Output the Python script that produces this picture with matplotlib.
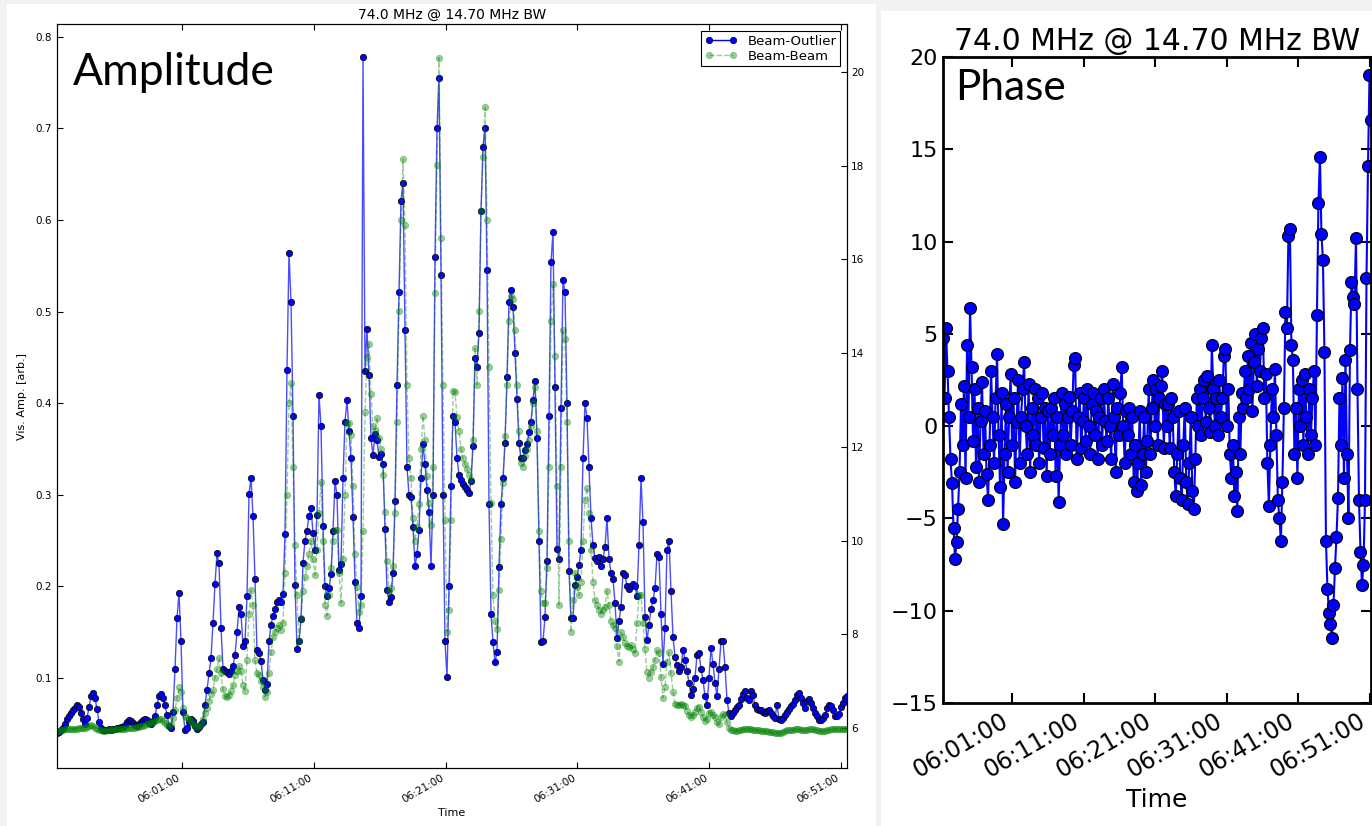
import numpy as np
import pandas as pd
import matplotlib
matplotlib.use('Agg')
import matplotlib.pyplot as plt
import matplotlib.dates as mdates
from matplotlib.lines import Line2D
from matplotlib.patches import Rectangle

title = '74.0 MHz @ 14.70 MHz BW'
tick_minutes = [1, 11, 21, 31, 41, 51]

# amplitude panel: samples evenly spaced between start and end
amp_start = '2013-01-01 05:51:31'
amp_end = '2013-01-01 06:51:27'

# Beam-Outlier, Vis. Amp. [arb.] (left axis)
beam_outlier = [
    0.040, 0.041, 0.043, 0.045, 0.050, 0.055, 0.059, 0.062, 0.065, 0.067,
    0.070, 0.068, 0.062, 0.055, 0.050, 0.056, 0.068, 0.080, 0.084, 0.078,
    0.066, 0.052, 0.045, 0.043, 0.043, 0.043, 0.044, 0.043, 0.044, 0.044,
    0.045, 0.045, 0.046, 0.047, 0.049, 0.052, 0.054, 0.053, 0.051, 0.049,
    0.048, 0.050, 0.052, 0.054, 0.055, 0.054, 0.051, 0.050, 0.053, 0.058,
    0.070, 0.080, 0.083, 0.078, 0.070, 0.060, 0.048, 0.045, 0.063, 0.110,
    0.165, 0.193, 0.140, 0.063, 0.043, 0.045, 0.052, 0.055, 0.053, 0.048,
    0.044, 0.046, 0.050, 0.052, 0.071, 0.087, 0.105, 0.122, 0.160, 0.203,
    0.236, 0.225, 0.155, 0.110, 0.108, 0.107, 0.104, 0.108, 0.113, 0.125,
    0.150, 0.177, 0.170, 0.135, 0.140, 0.189, 0.301, 0.318, 0.277, 0.208,
    0.130, 0.127, 0.118, 0.098, 0.087, 0.093, 0.140, 0.158, 0.168, 0.175,
    0.183, 0.185, 0.183, 0.192, 0.257, 0.436, 0.564, 0.511, 0.386, 0.201,
    0.132, 0.140, 0.164, 0.226, 0.250, 0.261, 0.277, 0.286, 0.258, 0.240,
    0.278, 0.409, 0.375, 0.266, 0.200, 0.189, 0.198, 0.213, 0.260, 0.315,
    0.300, 0.218, 0.224, 0.318, 0.380, 0.403, 0.370, 0.340, 0.276, 0.205,
    0.160, 0.155, 0.190, 0.778, 0.435, 0.481, 0.431, 0.362, 0.343, 0.366,
    0.360, 0.341, 0.344, 0.334, 0.263, 0.196, 0.183, 0.188, 0.215, 0.293,
    0.420, 0.521, 0.621, 0.640, 0.480, 0.330, 0.300, 0.298, 0.265, 0.222,
    0.235, 0.262, 0.318, 0.355, 0.334, 0.305, 0.281, 0.222, 0.300, 0.560,
    0.700, 0.755, 0.540, 0.300, 0.140, 0.101, 0.200, 0.310, 0.386, 0.380,
    0.340, 0.322, 0.316, 0.312, 0.308, 0.305, 0.302, 0.315, 0.353, 0.449,
    0.440, 0.477, 0.610, 0.680, 0.700, 0.545, 0.290, 0.170, 0.139, 0.117,
    0.128, 0.221, 0.290, 0.318, 0.356, 0.429, 0.511, 0.524, 0.505, 0.455,
    0.405, 0.356, 0.340, 0.340, 0.349, 0.355, 0.368, 0.380, 0.404, 0.424,
    0.362, 0.249, 0.139, 0.140, 0.167, 0.228, 0.386, 0.554, 0.587, 0.418,
    0.241, 0.230, 0.395, 0.535, 0.521, 0.400, 0.217, 0.165, 0.165, 0.201,
    0.210, 0.223, 0.240, 0.340, 0.400, 0.384, 0.330, 0.275, 0.245, 0.231,
    0.228, 0.232, 0.222, 0.230, 0.243, 0.275, 0.230, 0.215, 0.208, 0.182,
    0.144, 0.162, 0.178, 0.215, 0.212, 0.200, 0.197, 0.200, 0.203, 0.200,
    0.190, 0.245, 0.318, 0.270, 0.167, 0.141, 0.158, 0.175, 0.185, 0.198,
    0.235, 0.232, 0.170, 0.115, 0.155, 0.240, 0.250, 0.195, 0.145, 0.123,
    0.114, 0.108, 0.112, 0.131, 0.120, 0.108, 0.094, 0.081, 0.088, 0.100,
    0.125, 0.127, 0.110, 0.098, 0.080, 0.070, 0.100, 0.133, 0.115, 0.095,
    0.080, 0.110, 0.140, 0.140, 0.112, 0.076, 0.062, 0.059, 0.062, 0.065,
    0.068, 0.070, 0.077, 0.083, 0.086, 0.078, 0.076, 0.086, 0.081, 0.070,
    0.066, 0.065, 0.065, 0.063, 0.062, 0.064, 0.065, 0.062, 0.059, 0.056,
    0.071, 0.055, 0.054, 0.056, 0.060, 0.063, 0.066, 0.069, 0.072, 0.076,
    0.081, 0.084, 0.078, 0.073, 0.067, 0.075, 0.077, 0.073, 0.067, 0.062,
    0.058, 0.054, 0.054, 0.056, 0.060, 0.067, 0.070, 0.069, 0.065, 0.059,
    0.058, 0.061, 0.068, 0.073, 0.078, 0.080,
]

# Beam-Beam (right axis)
beam_beam = [
    5.92, 5.94, 5.96, 5.96, 5.98, 5.98, 5.99, 5.99, 5.99, 5.99,
    5.99, 6.01, 6.01, 6.01, 6.01, 6.03, 6.05, 6.07, 6.05, 6.01,
    5.98, 5.96, 5.96, 5.94, 5.94, 5.96, 5.96, 5.96, 5.96, 5.98,
    5.98, 5.98, 5.98, 5.99, 5.99, 6.01, 6.01, 6.01, 6.01, 6.01,
    6.03, 6.03, 6.05, 6.05, 6.07, 6.09, 6.11, 6.11, 6.13, 6.15,
    6.17, 6.19, 6.19, 6.15, 6.11, 6.07, 6.05, 6.09, 6.21, 6.39,
    6.64, 6.87, 6.78, 6.44, 6.25, 6.21, 6.19, 6.15, 6.09, 6.05,
    6.03, 6.05, 6.09, 6.19, 6.33, 6.44, 6.58, 6.72, 6.81, 7.07,
    7.26, 7.50, 7.17, 6.83, 6.68, 6.66, 6.70, 6.80, 6.91, 7.13,
    7.21, 7.32, 7.22, 6.91, 6.80, 7.46, 8.44, 8.95, 8.63, 7.46,
    7.17, 7.13, 7.01, 6.87, 6.66, 6.78, 7.17, 7.62, 7.95, 8.05,
    8.14, 8.20, 8.09, 8.24, 9.32, 10.98, 12.93, 13.36, 11.56, 9.90,
    8.83, 7.85, 8.34, 8.93, 9.22, 9.45, 9.71, 10.00, 9.61, 9.26,
    9.80, 10.59, 11.25, 10.00, 8.63, 8.40, 8.83, 9.41, 10.00, 10.23,
    10.23, 9.32, 8.67, 9.61, 10.98, 12.50, 12.50, 12.25, 11.17, 9.71,
    9.02, 8.48, 8.63, 10.20, 12.74, 13.91, 14.20, 13.13, 12.44, 12.34,
    12.62, 12.19, 11.95, 11.41, 10.61, 9.57, 8.93, 8.98, 9.45, 10.59,
    12.54, 14.89, 16.84, 18.13, 16.74, 13.32, 11.76, 11.33, 10.49, 10.00,
    10.29, 10.78, 11.95, 12.66, 12.15, 11.37, 10.80, 10.33, 11.56, 15.28,
    18.01, 20.30, 16.45, 13.32, 10.43, 8.05, 8.53, 10.43, 13.20, 13.17,
    12.64, 12.34, 11.95, 11.76, 11.64, 11.52, 11.41, 11.29, 12.15, 14.10,
    13.32, 14.89, 17.03, 18.19, 19.24, 16.84, 13.71, 10.80, 8.83, 8.28,
    8.12, 8.95, 10.04, 11.23, 12.23, 13.32, 14.69, 15.22, 15.16, 14.49,
    13.32, 12.34, 11.66, 11.56, 11.80, 11.95, 12.15, 12.44, 12.93, 13.28,
    12.34, 10.20, 8.93, 8.67, 8.67, 9.41, 11.56, 14.69, 15.47, 13.93,
    11.17, 8.63, 11.56, 14.49, 14.30, 12.54, 10.00, 8.05, 8.73, 9.32,
    9.02, 8.83, 9.12, 10.00, 10.86, 11.13, 10.59, 9.80, 9.12, 8.73,
    8.63, 8.53, 8.44, 8.53, 8.59, 8.93, 8.63, 8.28, 8.20, 8.14,
    7.75, 7.42, 8.05, 7.95, 7.81, 7.75, 7.73, 7.77, 7.69, 7.60,
    8.24, 8.83, 8.83, 8.24, 7.68, 7.19, 7.07, 7.19, 7.30, 7.46,
    7.66, 7.60, 7.09, 6.64, 6.87, 7.42, 7.62, 7.17, 6.78, 6.52,
    6.50, 6.50, 6.52, 6.50, 6.48, 6.37, 6.29, 6.23, 6.29, 6.35,
    6.44, 6.46, 6.35, 6.23, 6.15, 6.19, 6.33, 6.35, 6.29, 6.23,
    6.13, 6.09, 6.23, 6.31, 6.29, 6.13, 6.01, 5.96, 5.96, 5.94,
    5.94, 5.96, 5.96, 5.98, 5.99, 5.99, 5.98, 5.98, 5.96, 5.96,
    5.96, 5.96, 5.94, 5.94, 5.94, 5.94, 5.92, 5.92, 5.92, 5.90,
    5.90, 5.90, 5.90, 5.92, 5.94, 5.96, 5.96, 5.96, 5.96, 5.98,
    5.98, 5.98, 5.96, 5.96, 5.96, 5.96, 5.98, 5.98, 5.98, 5.96,
    5.96, 5.94, 5.94, 5.94, 5.94, 5.96, 5.96, 5.98, 5.99, 5.99,
    5.99, 5.98, 5.98, 5.99, 5.99, 5.99,
]

# phase panel
phase_start = '2013-01-01 05:51:22'
phase_end = '2013-01-01 06:51:08'
phase = [
    4.8, 1.5, 5.3, 3.0, 0.5, -1.8, -3.1, -5.5, -7.2, -6.3,
    -4.5, -2.5, 1.2, -1.0, 2.2, -2.8, 4.4, 0.5, 6.4, 3.2,
    -0.8, 2.0, -2.2, 1.0, -3.0, 0.3, 2.4, -1.5, 0.8, -2.6,
    -4.0, -1.0, 3.0, 0.5, -2.0, 1.5, 3.9, -0.5, -3.3, 1.8,
    -5.3, -1.5, 1.2, -2.5, 0.5, 2.8, -1.0, 1.5, -3.0, 0.2,
    2.5, -2.0, 0.5, 2.0, 3.5, 0.0, -1.5, 2.3, -2.5, 1.0,
    -0.5, 2.0, -1.0, 1.5, -2.0, 0.5, 1.8, -1.2, 1.0, -2.7,
    0.8, -1.5, 1.0, -0.5, 1.5, -2.7, 0.5, -4.1, -1.0, 1.8,
    -0.5, 1.2, -1.5, 0.5, 1.6, -1.0, 0.8, 3.3, 3.7, -1.8,
    0.5, 1.8, -1.2, 0.3, 1.5, -0.8, 2.0, 0.0, -1.5, 1.2,
    1.8, -0.5, 0.8, -1.8, 0.5, 1.5, -1.0, 2.0, 0.3, -0.8,
    1.5, 0.0, -1.8, 2.3, 0.5, -2.5, 1.0, -0.5, 1.8, 3.2,
    0.0, -2.0, 0.8, -0.5, 1.0, -1.5, 0.5, -3.0, -1.0, -3.5,
    -2.0, 0.8, -3.2, -1.5, 0.5, -2.5, -0.8, 2.0, -1.5, 1.0,
    2.5, 0.0, 2.0, -1.0, 1.5, 2.2, 3.0, -1.2, 1.2, 0.0,
    1.2, -1.2, 1.5, 0.5, -2.5, -3.8, -1.5, 0.8, -2.8, -4.0,
    -1.0, 1.0, -3.0, -4.2, -2.0, 0.5, -3.5, -4.5, -1.8, 1.5,
    0.0, 2.0, -0.5, 1.5, 2.5, 0.2, 2.7, 1.0, -0.3, 4.4,
    2.0, 0.0, 1.5, -0.5, 2.5, 0.5, 1.5, 3.8, 4.2, 0.0,
    2.0, -1.5, -2.8, -1.0, -3.8, -2.5, -4.6, 0.5, -1.5, 1.8,
    1.0, 3.0, 1.5, 3.8, 2.0, 4.5, 0.8, 3.5, 5.0, 2.2,
    4.2, 3.0, 4.8, 5.3, 1.5, 2.8, -2.0, -4.3, -1.0, 2.0,
    0.5, 3.1, -0.5, -4.0, -5.0, -6.2, -3.0, 1.0, 6.2, 5.3,
    10.3, 10.7, 4.4, 3.6, -1.5, 1.0, -2.8, 2.0, 0.0, 2.5,
    -1.0, 2.8, 0.5, -1.5, 2.0, -0.5, 1.5, 3.0, -1.0, 6.0,
    12.1, 14.6, 10.4, 9.0, 4.0, -6.2, -8.8, -10.1, -10.7, -11.5,
    -9.7, -7.7, -6.0, -3.9, 1.5, -1.0, 2.6, -2.8, 3.6, -1.5,
    -5.0, 4.1, 7.8, 7.0, 6.6, 10.2, 2.0, -4.0, -6.8, -8.6,
    -7.5, -4.0, 8.0, 14.1, 19.0, 16.6,
]

W, H = 1372, 826
fig = plt.figure(figsize=(W / 100, H / 100), dpi=100)
fig.patch.set_facecolor('#f2f2f2')

# the two white slide panels
fig.add_artist(Rectangle((7 / W, 0), 869 / W, 822 / H, transform=fig.transFigure,
                         facecolor='white', edgecolor='none', zorder=-5))
fig.add_artist(Rectangle((881 / W, 0), 491 / W, 815 / H, transform=fig.transFigure,
                         facecolor='white', edgecolor='none', zorder=-5))

# ---- amplitude ----
t_amp = pd.date_range(amp_start, amp_end, periods=len(beam_outlier))
ax = fig.add_axes([57 / W, 58 / H, 790 / W, 744 / H])
ax.plot(t_amp, beam_outlier, '-', color='blue', lw=1.0, alpha=0.7)
ax.plot(t_amp, beam_outlier, 'o', color='blue', mec='black', mew=0.5, ms=4.6, ls='none')
ax.set_ylim(0.0017, 0.814)
ax.set_xlim(t_amp[0], t_amp[-1])
ax.set_yticks(np.arange(0.1, 0.81, 0.1))
ax.xaxis.set_major_locator(mdates.MinuteLocator(byminute=tick_minutes))
ax.xaxis.set_major_formatter(mdates.DateFormatter('%H:%M:%S'))
ax.tick_params(direction='in', length=4, width=0.8, labelsize=7.5, top=True, right=False)
for lbl in ax.get_xticklabels():
    lbl.set_rotation(30)
    lbl.set_ha('right')
ax.set_ylabel('Vis. Amp. [arb.]', fontsize=8, labelpad=6)
ax.set_xlabel('Time', fontsize=8, labelpad=2)
ax.set_title(title, fontsize=10, pad=4)
for s in ax.spines.values():
    s.set_linewidth(0.8)

ax2 = ax.twinx()
bb_line, = ax2.plot(t_amp, beam_beam, '--o', color='green', lw=1.0, ms=4.6, mec='green',
                    mew=0.5, alpha=0.4)
ax2.set_ylim(5.15, 21.02)
ax2.set_yticks(range(6, 21, 2))
ax2.tick_params(direction='in', length=4, width=0.8, labelsize=7.5, pad=3)
ax2.set_xlim(t_amp[0], t_amp[-1])

bo_handle = Line2D([], [], color='blue', marker='o', mec='black', mew=0.5, ms=4.6, lw=1.0)
leg = ax2.legend([bo_handle, bb_line], ['Beam-Outlier', 'Beam-Beam'], loc='upper right',
                 fontsize=9.5, numpoints=2, fancybox=False, framealpha=1,
                 edgecolor='black', borderaxespad=0.5, handlelength=2.4,
                 borderpad=0.3, labelspacing=0.15)
leg.get_frame().set_linewidth(0.8)

fig.text(73 / W, 1 - 85 / H, 'Amplitude', fontsize=32, family='Lato', va='baseline')

# ---- phase ----
t_ph = pd.date_range(phase_start, phase_end, periods=len(phase))
axp = fig.add_axes([943 / W, 123 / H, 428 / W, 646 / H])
axp.plot(t_ph, phase, '-o', color='blue', mec='black', mew=0.8, ms=8.6, lw=1.5)
axp.set_ylim(-15, 20)
axp.set_xlim(t_ph[0], t_ph[-1])
axp.set_yticks(range(-15, 21, 5))
axp.xaxis.set_major_locator(mdates.MinuteLocator(byminute=tick_minutes))
axp.xaxis.set_major_formatter(mdates.DateFormatter('%H:%M:%S'))
axp.tick_params(direction='in', length=7, width=1.5, labelsize=16, top=True, right=True, pad=4)
axp.tick_params(axis='x', labelsize=17)
for lbl in axp.get_xticklabels():
    lbl.set_rotation(30)
    lbl.set_ha('right')
for s in axp.spines.values():
    s.set_linewidth(2)
axp.set_xlabel('Time', fontsize=18, labelpad=4)
axp.set_title(title, fontsize=21.5, pad=5)

fig.text(955 / W, 1 - 100 / H, 'Phase', fontsize=30.5, family='Lato', va='baseline')

fig.savefig('out.png', dpi=100, facecolor=fig.get_facecolor())
